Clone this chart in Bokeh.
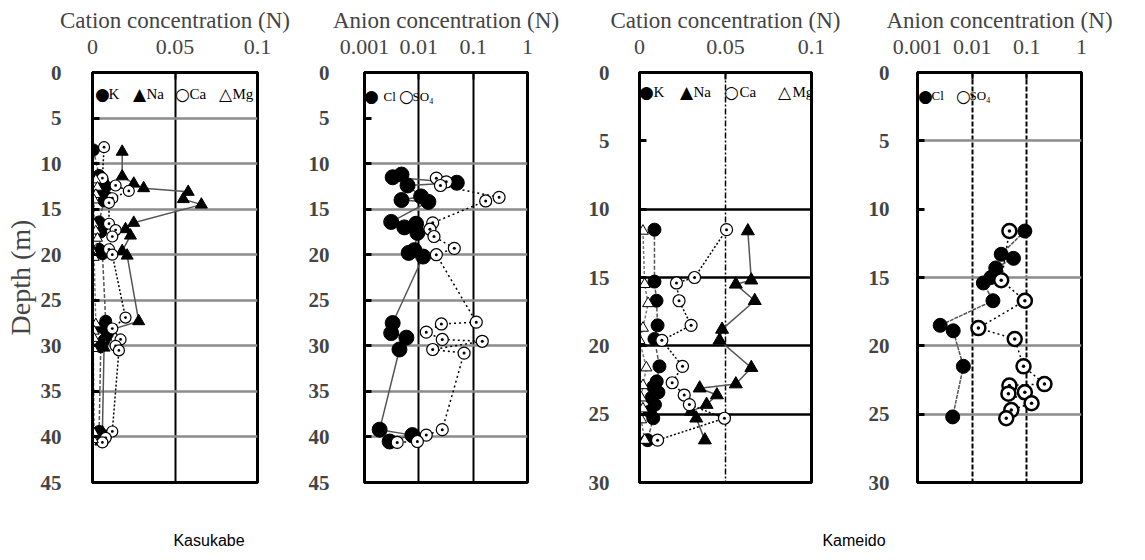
from bokeh.plotting import figure
from bokeh.models import Range1d, FixedTicker, PrintfTickFormatter, Label, Div, Spacer
from bokeh.layouts import row, column
from bokeh.embed import file_html
from bokeh.resources import INLINE

# ---------------- data ----------------
# Kasukabe, cations (N)
kas_k_depth = [8.5, 11.3, 11.9, 12.5, 13.1, 13.7, 14.1, 16.4, 16.9, 17.5, 19.4, 19.9,
               27.3, 28.0, 28.7, 29.4, 30.1, 39.4, 39.9, 40.5]
kas_k = [0.0005, 0.004, 0.006, 0.008, 0.005, 0.009, 0.007, 0.004, 0.006, 0.005, 0.004, 0.006,
         0.008, 0.006, 0.009, 0.007, 0.005, 0.004, 0.008, 0.006]
kas_na_depth = [8.7, 11.4, 12.2, 12.7, 13.1, 13.9, 14.5, 16.5, 17.2, 17.9, 19.6, 20.1,
                27.3, 28.3, 29.0, 30.2, 39.5, 40.0, 40.5]
kas_na = [0.018, 0.018, 0.025, 0.031, 0.058, 0.055, 0.066, 0.025, 0.020, 0.023, 0.018, 0.021,
          0.028, 0.010, 0.008, 0.007, 0.006, 0.007, 0.005]
kas_ca_depth = [8.2, 11.6, 12.4, 13.0, 13.8, 14.3, 16.6, 17.3, 18.0, 19.4, 20.0, 26.9,
                28.1, 29.3, 30.0, 30.5, 39.4, 40.1, 40.6]
kas_ca = [0.007, 0.006, 0.014, 0.022, 0.012, 0.010, 0.010, 0.014, 0.012, 0.010, 0.012, 0.020,
          0.012, 0.017, 0.014, 0.016, 0.012, 0.008, 0.006]
kas_mg_depth = [11.8, 12.6, 13.4, 14.0, 16.7, 17.4, 18.2, 19.8, 20.3, 27.6, 28.4, 29.2,
                30.3, 39.6, 40.3]
kas_mg = [0.002, 0.003, 0.002, 0.001, 0.001, 0.002, 0.003, 0.0005, 0.001, 0.002, 0.001, 0.001,
          0.0005, 0.001, 0.0005]

# Kasukabe, anions (N)
kas_cl_depth = [11.2, 11.5, 12.1, 12.4, 13.6, 14.0, 14.2, 16.4, 16.6, 17.0, 17.6, 19.5, 19.8,
                20.2, 27.5, 28.6, 29.1, 30.4, 39.2, 39.8, 40.5]
kas_cl = [0.0048, 0.0033, 0.050, 0.0062, 0.011, 0.0048, 0.015, 0.0031, 0.0089, 0.0054, 0.0094,
          0.0083, 0.0065, 0.012, 0.0033, 0.0031, 0.0059, 0.0044, 0.0019, 0.0076, 0.0029]
kas_so4_depth = [11.6, 12.0, 12.4, 13.7, 14.1, 16.5, 17.2, 18.0, 19.3, 20.0, 27.4, 27.6, 28.5,
                 29.3, 29.5, 30.4, 30.8, 39.2, 39.8, 40.5, 40.6]
kas_so4 = [0.021, 0.032, 0.025, 0.30, 0.17, 0.018, 0.016, 0.019, 0.045, 0.021, 0.114, 0.026,
           0.0137, 0.027, 0.147, 0.018, 0.068, 0.027, 0.0137, 0.0094, 0.004]

# Kameido, cations (N)
kam_k_depth = [11.5, 15.3, 16.7, 18.5, 19.5, 21.5, 22.6, 23.0, 23.4, 23.8, 24.3, 24.8, 25.3, 26.9]
kam_k = [0.0087, 0.0087, 0.0099, 0.0105, 0.0087, 0.0116, 0.010, 0.008, 0.011, 0.007, 0.009,
         0.006, 0.008, 0.0047]
kam_na_depth = [11.6, 15.2, 15.5, 16.7, 18.8, 19.6, 21.6, 22.8, 23.1, 23.6, 24.3, 24.8, 25.3, 26.9]
kam_na = [0.063, 0.065, 0.056, 0.067, 0.048, 0.0465, 0.065, 0.056, 0.035, 0.045, 0.039, 0.030,
          0.033, 0.038]
kam_ca_depth = [11.5, 15.0, 15.4, 16.7, 18.5, 19.6, 21.5, 22.7, 23.6, 24.3, 25.3, 26.9]
kam_ca = [0.0506, 0.032, 0.0215, 0.023, 0.030, 0.013, 0.025, 0.019, 0.026, 0.029, 0.0494, 0.0105]
kam_mg_depth = [11.6, 15.5, 16.9, 18.7, 19.6, 21.6, 22.9, 23.8, 24.6, 25.4, 26.9]
kam_mg = [0.002, 0.003, 0.005, 0.002, 0.0, 0.004, 0.002, 0.001, 0.002, 0.001, 0.003]

# Kameido, anions (N)
kam_cl_depth = [11.6, 13.3, 13.6, 14.3, 15.0, 15.4, 16.7, 18.5, 18.9, 21.5, 25.2]
kam_cl = [0.092, 0.034, 0.057, 0.027, 0.022, 0.016, 0.024, 0.0026, 0.0045, 0.0069, 0.0044]
kam_so4_depth = [11.6, 15.2, 16.7, 18.7, 19.5, 21.5, 22.8, 22.9, 23.4, 23.5, 24.2, 24.7, 25.3]
kam_so4 = [0.048, 0.034, 0.092, 0.013, 0.060, 0.087, 0.21, 0.048, 0.092, 0.046, 0.122, 0.052,
           0.042]

# axis ticks / labels
cation_ticks = [0, 0.05, 0.1]
anion_ticks = [0.001, 0.01, 0.1, 1]
kas_depth_ticks = [0, 5, 10, 15, 20, 25, 30, 35, 40, 45]
kam_depth_ticks = [0, 5, 10, 15, 20, 25, 30]
cation_title = "Cation concentration (N)"
anion_title = "Anion concentration (N)"
depth_title = "Depth (m)"
site_names = ["Kasukabe", "Kameido"]
cation_keys = [("\u25cf", "K"), ("\u25b2", "Na"), ("\u25cb", "Ca"), ("\u25b3", "Mg")]
anion_keys = [("\u25cf", "Cl"), ("\u25cb", "SO\u2084")]

SERIF = "Liberation Serif"
B_TOP = 72
FRAME_H = 410
FIG_H = 530


def panel(title, x_type, x_rng, x_ticks, y_ticks, grid_depths, hgrid_color,
          vlines, vline_dash, vline_width, b_left, frame_w, b_right, y_standoff,
          ylabel=None):
    p = figure(width=b_left + frame_w + b_right, height=FIG_H, x_axis_type=x_type,
               x_axis_location="above", x_range=Range1d(*x_rng),
               y_range=Range1d(y_ticks[-1], 0), output_backend="svg",
               toolbar_location=None, min_border_left=b_left, min_border_right=b_right,
               min_border_top=B_TOP, min_border_bottom=FIG_H - B_TOP - FRAME_H,
               background_fill_color="white", border_fill_color="white")
    p.outline_line_color = "black"
    p.outline_line_width = 3

    xa = p.xaxis[0]
    xa.ticker = FixedTicker(ticks=x_ticks)
    xa.formatter = PrintfTickFormatter(format="%g")
    xa.major_label_text_font = SERIF
    xa.major_label_text_font_size = "22px"
    xa.major_label_standoff = 19
    xa.axis_label = title
    xa.axis_label_text_font = SERIF
    xa.axis_label_text_font_size = "23px"
    xa.axis_label_text_font_style = "normal"
    xa.axis_label_standoff = 4
    xa.major_tick_in = 7
    xa.major_tick_out = 0
    xa.minor_tick_in = 0
    xa.minor_tick_out = 0
    xa.major_tick_line_width = 2
    xa.axis_line_width = 3

    ya = p.yaxis[0]
    ya.ticker = FixedTicker(ticks=y_ticks)
    ya.major_label_text_font = SERIF
    ya.major_label_text_font_size = "21px"
    ya.major_label_text_font_style = "bold"
    ya.major_label_standoff = y_standoff
    ya.major_tick_in = 7
    ya.major_tick_out = 0
    ya.minor_tick_in = 0
    ya.minor_tick_out = 0
    ya.major_tick_line_width = 3
    ya.axis_line_width = 3
    if ylabel:
        ya.axis_label = ylabel
        ya.axis_label_text_font = SERIF
        ya.axis_label_text_font_size = "28px"
        ya.axis_label_text_font_style = "normal"
        ya.axis_label_standoff = 2

    p.ygrid[0].ticker = FixedTicker(ticks=grid_depths)
    p.ygrid[0].grid_line_color = hgrid_color
    p.ygrid[0].grid_line_width = 2.5
    p.xgrid[0].ticker = FixedTicker(ticks=vlines)
    p.xgrid[0].grid_line_color = "black"
    p.xgrid[0].grid_line_width = vline_width
    if vline_dash:
        p.xgrid[0].grid_line_dash = vline_dash
    return p


def series(p, xs, ys, marker, size, fill, mlw, line_color, line_dash, line_w=1.5):
    p.line(xs, ys, line_color=line_color, line_width=line_w, line_dash=line_dash)
    return p.scatter(xs, ys, marker=marker, size=size, fill_color=fill,
                     line_color="black", line_width=mlw)


def key_box(p, x0, y, keys, sym_offsets, txt_offsets, txt_size):
    """In-plot key drawn as text (symbol characters + ion names)."""
    for (sym, name), so, to in zip(keys, sym_offsets, txt_offsets):
        p.add_layout(Label(x=x0, y=y, x_offset=so, text=sym, text_font="DejaVu Sans",
                           text_font_size="17px", text_align="center",
                           text_baseline="middle", text_color="black"))
        p.add_layout(Label(x=x0, y=y, x_offset=to, text=name, text_font=SERIF,
                           text_font_size=txt_size, text_align="left",
                           text_baseline="middle", text_color="black"))


# ---- Kasukabe cation ----
p1 = panel(cation_title, "linear", (0, 0.1), cation_ticks, kas_depth_ticks,
           [5, 10, 15, 20, 25, 30, 35, 40], "#8c8c8c", [0.05], None, 2,
           92, 165, 47, 31, ylabel=depth_title)
series(p1, kas_k, kas_k_depth, "circle", 12, "black", 1, "#555555", "4 2")
series(p1, kas_na, kas_na_depth, "triangle", 12, "black", 1, "#555555", "solid")
series(p1, kas_ca, kas_ca_depth, "circle_dot", 11, "white", 1.2, "black", "2 2")
series(p1, kas_mg, kas_mg_depth, "triangle", 10, "white", 1, "#777777", "3 2")
key_box(p1, 0, 2.4, cation_keys, [10, 47, 90, 133], [16, 54, 97, 140], "15px")

# ---- Kasukabe anion ----
p2 = panel(anion_title, "log", (0.001, 1), anion_ticks, kas_depth_ticks,
           [10, 15, 20, 25, 30, 35, 40], "#8c8c8c", [0.01, 0.1], None, 2,
           60, 163, 47, 35)
series(p2, kas_cl, kas_cl_depth, "circle", 15, "black", 1, "#555555", "solid")
series(p2, kas_so4, kas_so4_depth, "circle_dot", 12, "white", 1.2, "black", "2 3")
key_box(p2, 0.001, 2.6, anion_keys, [7, 42], [19, 48], "13px")

# ---- Kameido cation ----
p3 = panel(cation_title, "linear", (0, 0.1), cation_ticks, kam_depth_ticks,
           [10, 15, 20, 25], "black", [0.05], "6 2 2 2", 1.5,
           65, 172, 46, 30)
series(p3, kam_k, kam_k_depth, "circle", 13, "black", 1, "#555555", "4 2")
series(p3, kam_na, kam_na_depth, "triangle", 13, "black", 1, "#555555", "solid")
series(p3, kam_ca, kam_ca_depth, "circle_dot", 12, "white", 1.2, "black", "2 2")
series(p3, kam_mg, kam_mg_depth, "triangle", 11, "white", 1, "#777777", "3 2")
key_box(p3, 0, 1.4, cation_keys, [7, 47, 92, 145], [14, 54, 100, 153], "15px")

# ---- Kameido anion ----
p4 = panel(anion_title, "log", (0.001, 1), anion_ticks, kam_depth_ticks,
           [5, 15, 20, 25], "#8c8c8c", [0.01, 0.1], "5 2", 2,
           60, 164, 50, 28)
series(p4, kam_cl, kam_cl_depth, "circle", 14, "black", 1, "#555555", "4 1")
series(p4, kam_so4, kam_so4_depth, "circle_dot", 14, "white", 2.5, "black", "2 3")
key_box(p4, 0.001, 1.7, anion_keys, [8, 46], [14, 52], "13px")

label_style = {"font-family": "Liberation Sans", "font-size": "16px", "text-align": "center",
               "color": "black"}
d1 = Div(text=site_names[0], width=418, height=22, styles=label_style, margin=0)
sp = Spacer(width=336, height=22, margin=0)
d2 = Div(text=site_names[1], width=200, height=22, styles=label_style, margin=0)

layout = column(row(p1, p2, p3, p4), row(d1, sp, d2))

with open("out.html", "w") as f:
    f.write(file_html(layout, INLINE))
